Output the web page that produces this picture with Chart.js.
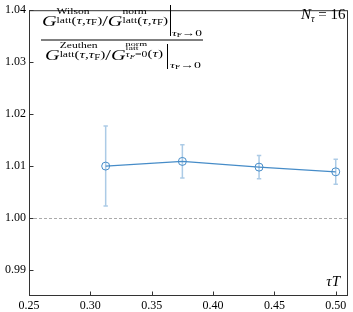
<!DOCTYPE html>
<html>
<head>
<meta charset="utf-8">
<script src="https://cdn.jsdelivr.net/npm/chart.js@4.4.1/dist/chart.umd.min.js"></script>
<style>
  html, body { margin: 0; padding: 0; background: #fff; }
  #wrap { width: 353px; height: 312px; }
</style>
</head>
<body>
<div id="wrap"><canvas id="c" width="353" height="312"></canvas></div>
<script>
// ---- data ----
const TAU_T = [0.3125, 0.375, 0.4375, 0.5];
const RATIO = [1.0100, 1.0109, 1.0098, 1.0089];
const RATIO_ERR = [0.0077, 0.0032, 0.00225, 0.0024];
const X_TICKS = [0.25, 0.30, 0.35, 0.40, 0.45, 0.50];
const Y_TICKS = [0.99, 1.00, 1.01, 1.02, 1.03, 1.04];
const REF_LEVEL = 1.0;
const X_LABEL = 'τT';
const N_TAU_LABEL = '16';

const LINE_COLOR = 'rgb(70,140,200)';
const ERR_COLOR = 'rgba(70,140,200,0.45)';
const AXIS_COLOR = '#333';
const SERIF = '"Liberation Serif", "DejaVu Serif", serif';

function fontStr(s, it) { return (it ? 'italic ' : '') + s + 'px ' + SERIF; }
function runW(ctx, r) { ctx.font = fontStr(r.s, r.i); return ctx.measureText(r.t).width; }
function seqW(ctx, seq) { return seq.reduce((a, r) => a + runW(ctx, r), 0); }
function itemW(ctx, it) {
  if (it.stack) return Math.max(...it.stack.map(sq => seqW(ctx, sq)));
  return runW(ctx, it);
}
function drawSeq(ctx, seq, x) {
  for (const r of seq) {
    ctx.font = fontStr(r.s, r.i);
    ctx.fillText(r.t, x, r.dy || 0);
    x += ctx.measureText(r.t).width;
  }
  return x;
}
function drawRich(ctx, items, x0, base, targetW) {
  const w = items.reduce((a, it) => a + itemW(ctx, it), 0);
  const k = targetW ? targetW / w : 1;
  ctx.save();
  ctx.translate(x0, base);
  ctx.scale(k, 1);
  ctx.textAlign = 'left';
  ctx.textBaseline = 'alphabetic';
  let x = 0;
  for (const it of items) {
    if (it.stack) { it.stack.forEach(sq => drawSeq(ctx, sq, x)); }
    else drawSeq(ctx, [it], x);
    x += itemW(ctx, it);
  }
  ctx.restore();
  return w * k;
}

const MAIN = 14, SCR = 8, ARG = 10.5, SS = 7.5;
function args(dy) {
  return [
    { t: '(', s: ARG, dy }, { t: 'τ', s: ARG, i: true, dy }, { t: ',', s: ARG, dy },
    { t: 'τ', s: ARG, i: true, dy }, { t: 'F', s: SS, dy: dy + 1.5 }, { t: ')', s: ARG, dy }
  ];
}
const NUMER = [
  { t: 'G', s: MAIN, i: true, dy: 0 },
  { stack: [[{ t: 'Wilson', s: SCR, dy: -12 }], [{ t: 'latt', s: SCR, dy: -3 }].concat(args(-2))] },
  { t: '/', s: MAIN, dy: 0 },
  { t: 'G', s: MAIN, i: true, dy: 0 },
  { stack: [[{ t: 'norm', s: SCR, dy: -12 }], [{ t: 'latt', s: SCR, dy: -3 }].concat(args(-2))] }
];
const DENOM = [
  { t: 'G', s: MAIN, i: true, dy: 0 },
  { stack: [[{ t: 'Zeuthen', s: SCR, dy: -12.5 }], [{ t: 'latt', s: SCR, dy: -3 }].concat(args(-2))] },
  { t: '/', s: MAIN, dy: 0 },
  { t: 'G', s: MAIN, i: true, dy: 0 },
  { stack: [[{ t: 'norm', s: SCR - 1, dy: -14.5 }], [{ t: 'latt', s: SCR - 1, dy: -10 }],
            [{ t: 'τ', s: SCR, i: true, dy: -3 }, { t: 'F', s: 6, i: true, dy: -1.5 }, { t: '=0', s: SCR, dy: -3 }]] },
  { t: '(', s: ARG, dy: -3 }, { t: 'τ', s: ARG, i: true, dy: -3 }, { t: ')', s: ARG, dy: -3 }
];
const LIMIT = [
  { t: 'τ', s: SCR + 1, i: true, dy: 0 }, { t: 'F', s: 6, dy: 1 }, { t: '→0', s: SCR + 1, dy: 0 }
];

const overlay = {
  id: 'overlay',
  beforeDatasetsDraw(chart) {
    const { ctx, chartArea: a, scales: { x, y } } = chart;
    ctx.save();
    // reference dashed line
    const yr = Math.round(y.getPixelForValue(REF_LEVEL)) + 0.5;
    ctx.strokeStyle = '#aaaaaa';
    ctx.lineWidth = 1;
    ctx.setLineDash([3, 2]);
    ctx.beginPath(); ctx.moveTo(a.left, yr); ctx.lineTo(a.right, yr); ctx.stroke();
    ctx.setLineDash([]);
    // error bars
    ctx.strokeStyle = ERR_COLOR;
    ctx.lineWidth = 1.5;
    TAU_T.forEach((t, i) => {
      const px = x.getPixelForValue(t);
      const p1 = y.getPixelForValue(RATIO[i] + RATIO_ERR[i]);
      const p2 = y.getPixelForValue(RATIO[i] - RATIO_ERR[i]);
      ctx.beginPath();
      ctx.moveTo(px, p1); ctx.lineTo(px, p2);
      ctx.moveTo(px - 2.2, p1); ctx.lineTo(px + 2.2, p1);
      ctx.moveTo(px - 2.2, p2); ctx.lineTo(px + 2.2, p2);
      ctx.stroke();
    });
    ctx.restore();
  },
  afterDraw(chart) {
    const { ctx, chartArea: a, scales: { x, y } } = chart;
    ctx.save();
    // frame
    ctx.strokeStyle = AXIS_COLOR;
    ctx.lineWidth = 1;
    ctx.strokeRect(a.left + 0.5, a.top + 0.5, a.right - a.left - 1, a.bottom - a.top - 1);
    // inward ticks
    ctx.beginPath();
    X_TICKS.forEach(v => {
      const px = Math.round(x.getPixelForValue(v)) + 0.5;
      ctx.moveTo(px, a.bottom); ctx.lineTo(px, a.bottom - 4.5);
    });
    Y_TICKS.forEach(v => {
      const py = Math.round(y.getPixelForValue(v)) + 0.5;
      ctx.moveTo(a.left, py); ctx.lineTo(a.left + 4.5, py);
    });
    ctx.stroke();

    ctx.fillStyle = '#000';
    // x label
    ctx.font = fontStr(15, true);
    ctx.textAlign = 'right';
    ctx.textBaseline = 'alphabetic';
    ctx.fillText(X_LABEL, a.right - 8, a.bottom - 10.5);
    // N_tau label
    const nItems = [{ t: 'N', s: 15, i: true, dy: 0 }, { t: 'τ', s: 10, i: true, dy: 3 }, { t: ' = ' + N_TAU_LABEL, s: 15, dy: 0 }];
    const nw = nItems.reduce((s, it) => s + itemW(ctx, it), 0);
    drawRich(ctx, nItems, a.right - 2.5 - nw, 18.5);

    // fraction label
    drawRich(ctx, NUMER, 42, 25.5, 126);
    drawRich(ctx, DENOM, 45, 60, 118);
    ctx.strokeStyle = '#000';
    ctx.lineWidth = 1;
    ctx.beginPath();
    ctx.moveTo(170.5, 5); ctx.lineTo(170.5, 36);
    ctx.moveTo(167.5, 44); ctx.lineTo(167.5, 69);
    ctx.moveTo(41, 40); ctx.lineTo(203, 40);
    ctx.stroke();
    drawRich(ctx, LIMIT, 172, 36, 30);
    drawRich(ctx, LIMIT, 170, 68, 31);
    ctx.restore();
  }
};

const tickFont = { family: SERIF, size: 12 };
new Chart(document.getElementById('c'), {
  type: 'scatter',
  data: {
    datasets: [{
      data: TAU_T.map((t, i) => ({ x: t, y: RATIO[i] })),
      showLine: true,
      borderColor: LINE_COLOR,
      borderWidth: 1.2,
      backgroundColor: 'rgba(0,0,0,0)',
      pointStyle: 'circle',
      pointRadius: 4,
      pointBorderWidth: 1,
      pointBorderColor: LINE_COLOR,
      pointBackgroundColor: 'rgba(0,0,0,0)'
    }]
  },
  options: {
    responsive: false,
    devicePixelRatio: 1,
    animation: false,
    layout: { padding: { top: 4, right: 3, left: 0, bottom: 0 } },
    plugins: { legend: { display: false }, tooltip: { enabled: false } },
    scales: {
      x: {
        type: 'linear', min: 0.25, max: 0.51,
        afterBuildTicks: s => { s.ticks = X_TICKS.map(v => ({ value: v })); },
        afterFit: s => { s.height = 16; },
        grid: { display: false, drawTicks: false },
        border: { display: false },
        ticks: { font: tickFont, color: '#000', padding: 3, maxRotation: 0, autoSkip: false,
                 callback: v => Number(v).toFixed(2) }
      },
      y: {
        type: 'linear', min: 0.985, max: 1.04,
        afterBuildTicks: s => { s.ticks = Y_TICKS.map(v => ({ value: v })); },
        afterFit: s => { s.width = 29; },
        grid: { display: false, drawTicks: false },
        border: { display: false },
        ticks: { font: tickFont, color: '#000', padding: 3, autoSkip: false,
                 callback: v => Number(v).toFixed(2) }
      }
    }
  },
  plugins: [overlay]
});
</script>
</body>
</html>
